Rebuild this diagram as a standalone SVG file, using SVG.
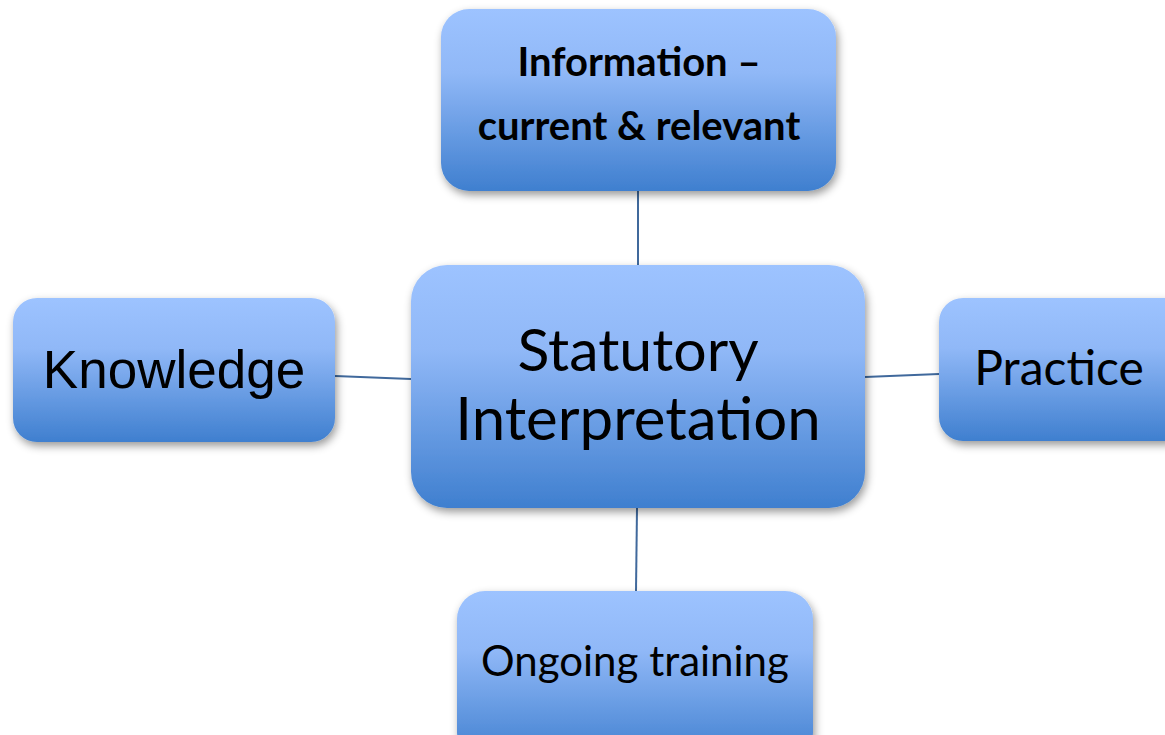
<svg xmlns="http://www.w3.org/2000/svg" width="1165" height="735" viewBox="0 0 1165 735">
<style>
.box{fill:url(#g);filter:url(#sh)}
.t{font-family:Lato,"Open Sans","Liberation Sans",sans-serif;fill:#000;text-anchor:middle}
.c{stroke:#40699c;stroke-width:2;fill:none}
</style>
<defs>
<linearGradient id="g" x1="0" y1="0" x2="0" y2="1">
<stop offset="0" stop-color="#9dc3ff"/>
<stop offset="0.35" stop-color="#90b8f7"/>
<stop offset="1" stop-color="#3f7fcf"/>
</linearGradient>
<filter id="sh" x="-10%" y="-10%" width="125%" height="130%">
<feDropShadow dx="2" dy="4" stdDeviation="4" flood-color="#000" flood-opacity="0.4"/>
</filter>
</defs>
<g id="connectors">
<line class="c" x1="638" y1="191" x2="638" y2="265"/>
<line class="c" x1="335" y1="376" x2="411" y2="379"/>
<line class="c" x1="865" y1="377" x2="939" y2="374"/>
<line class="c" x1="637" y1="508" x2="636" y2="591"/>
</g>
<g id="info">
<rect class="box" x="441" y="9" width="395" height="182" rx="28"/>
<text class="t" x="639" y="76" font-size="40" font-weight="bold">Information –</text>
<text class="t" x="639" y="140" font-size="40" font-weight="bold">current &amp; relevant</text>
</g>
<g id="center">
<rect class="box" x="411" y="265" width="454" height="243" rx="36"/>
<text class="t" x="638" y="371" font-size="59">Statutory</text>
<text class="t" x="638" y="440" font-size="60">Interpretation</text>
</g>
<g id="knowledge">
<rect class="box" x="13" y="298" width="322" height="144" rx="24"/>
<text x="174" y="388" font-size="53" text-anchor="middle" font-family="Liberation Sans, Arial, sans-serif">Knowledge</text>
</g>
<g id="practice">
<rect class="box" x="939" y="298" width="250" height="143" rx="24"/>
<text class="t" x="1059" y="385" font-size="48">Practice</text>
</g>
<g id="training">
<rect class="box" x="457" y="591" width="356" height="170" rx="28"/>
<text class="t" x="635" y="676" font-size="42">Ongoing training</text>
</g>
</svg>
